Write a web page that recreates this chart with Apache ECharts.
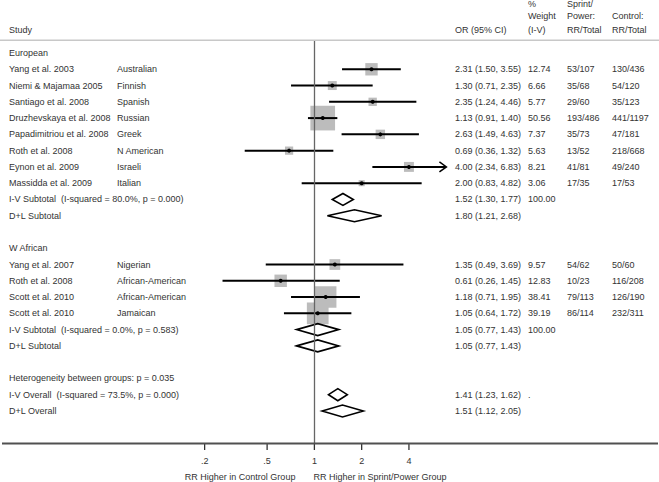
<!DOCTYPE html>
<html>
<head>
<meta charset="utf-8">
<script src="https://cdn.jsdelivr.net/npm/echarts@6/dist/echarts.min.js"></script>
<style>
html,body{margin:0;padding:0;background:#fff;}
#chart{width:659px;height:482px;}
</style>
</head>
<body>
<div id="chart"></div>
<script>
// ---------- DATA ----------
const groupLabels = ['European', 'W African', 'Heterogeneity between groups: p = 0.035'];
const groupRows = [0, 12, 20];

const studyNames = ['Yang et al. 2003', 'Niemi & Majamaa 2005', 'Santiago et al. 2008', 'Druzhevskaya et al. 2008',
  'Papadimitriou et al. 2008', 'Roth et al. 2008', 'Eynon et al. 2009', 'Massidda et al. 2009',
  'Yang et al. 2007', 'Roth et al. 2008', 'Scott et al. 2010', 'Scott et al. 2010'];
const studyPops = ['Australian', 'Finnish', 'Spanish', 'Russian', 'Greek', 'N American', 'Israeli', 'Italian',
  'Nigerian', 'African-American', 'African-American', 'Jamaican'];
const studyRows = [1, 2, 3, 4, 5, 6, 7, 8, 13, 14, 15, 16];
const studyOR = [2.31, 1.30, 2.35, 1.13, 2.63, 0.69, 4.00, 2.00, 1.35, 0.61, 1.18, 1.05];
const studyLo = [1.50, 0.71, 1.24, 0.91, 1.49, 0.36, 2.34, 0.83, 0.49, 0.26, 0.71, 0.64];
const studyHi = [3.55, 2.35, 4.46, 1.40, 4.63, 1.32, 6.83, 4.82, 3.69, 1.45, 1.95, 1.72];
const studyWeight = [12.74, 6.66, 5.77, 50.56, 7.37, 5.63, 8.21, 3.06, 9.57, 12.83, 38.41, 39.19];
const studyClipped = [0, 0, 0, 0, 0, 0, 1, 0, 0, 0, 0, 0];
const sprintRR = ['53/107', '35/68', '29/60', '193/486', '35/73', '13/52', '41/81', '17/35', '54/62', '10/23', '79/113', '86/114'];
const controlRR = ['130/436', '54/120', '35/123', '441/1197', '47/181', '218/668', '49/240', '17/53', '50/60', '116/208', '126/190', '232/311'];

const pooledLabels = ['I-V Subtotal  (I-squared = 80.0%, p = 0.000)', 'D+L Subtotal',
  'I-V Subtotal  (I-squared = 0.0%, p = 0.583)', 'D+L Subtotal',
  'I-V Overall  (I-squared = 73.5%, p = 0.000)', 'D+L Overall'];
const pooledRows = [9, 10, 17, 18, 21, 22];
const pooledOR = [1.52, 1.80, 1.05, 1.05, 1.41, 1.51];
const pooledLo = [1.30, 1.21, 0.77, 0.77, 1.23, 1.12];
const pooledHi = [1.77, 2.68, 1.43, 1.43, 1.62, 2.05];
const pooledWeightText = ['100.00', '', '100.00', '', '.', ''];

const tickValues = [0.2, 0.5, 1, 2, 4];
const tickLabels = ['.2', '.5', '1', '2', '4'];
const axisTitleLeft = 'RR Higher in Control Group';
const axisTitleRight = 'RR Higher in Sprint/Power Group';

// ---------- LAYOUT ----------
const FONT = '9px "Liberation Sans", Arial, sans-serif';
const TXT = '#333333';
const colX = [9, 117, 455, 528, 567, 612];
const X_MIN = 0.01025, X_MAX = 154.2;
const ROW_MIN = -0.8, ROW_MAX = 24;
const GRID_TOP = 40, GRID_BOTTOM = 38.5, CHART_H = 482;

function fmt(v) { return v.toFixed(2); }

const textRows = [];
groupRows.forEach((r, i) => textRows.push({ row: r, cells: [groupLabels[i]] }));
studyRows.forEach((r, i) => textRows.push({
  row: r,
  cells: [studyNames[i], studyPops[i], fmt(studyOR[i]) + ' (' + fmt(studyLo[i]) + ', ' + fmt(studyHi[i]) + ')',
    fmt(studyWeight[i]), sprintRR[i], controlRR[i]]
}));
pooledRows.forEach((r, i) => textRows.push({
  row: r,
  cells: [pooledLabels[i], '', fmt(pooledOR[i]) + ' (' + fmt(pooledLo[i]) + ', ' + fmt(pooledHi[i]) + ')',
    pooledWeightText[i], '', '']
}));

const chart = echarts.init(document.getElementById('chart'), null, { renderer: 'svg' });
const axisY = CHART_H - GRID_BOTTOM;

const option = {
  animation: false,
  backgroundColor: '#ffffff',
  grid: { left: 2, right: 1, top: GRID_TOP, bottom: GRID_BOTTOM, containLabel: false },
  xAxis: {
    type: 'log', min: X_MIN, max: X_MAX, position: 'bottom',
    axisLine: { show: false }, axisTick: { show: false }, axisLabel: { show: false }, splitLine: { show: false }
  },
  yAxis: {
    type: 'value', inverse: true, min: ROW_MIN, max: ROW_MAX, show: false, splitLine: { show: false }
  },
  graphic: [
    { type: 'rect', z: 100, shape: { x: 0, y: GRID_TOP - 0.5, width: 659, height: 1.5 }, style: { fill: '#c8c8c8' } },
    { type: 'rect', z: 100, shape: { x: 2, y: axisY - 1, width: 656, height: 2 }, style: { fill: '#505050' } },
    { type: 'text', x: colX[0], y: 30, style: { text: 'Study', font: FONT, fill: TXT, verticalAlign: 'middle' } },
    { type: 'text', x: colX[2], y: 30, style: { text: 'OR (95% CI)', font: FONT, fill: TXT, verticalAlign: 'middle' } },
    { type: 'text', x: colX[3], y: 4, style: { text: '%', font: FONT, fill: TXT, verticalAlign: 'middle' } },
    { type: 'text', x: colX[3], y: 16, style: { text: 'Weight', font: FONT, fill: TXT, verticalAlign: 'middle' } },
    { type: 'text', x: colX[3], y: 30, style: { text: '(I-V)', font: FONT, fill: TXT, verticalAlign: 'middle' } },
    { type: 'text', x: colX[4], y: 4, style: { text: 'Sprint/', font: FONT, fill: TXT, verticalAlign: 'middle' } },
    { type: 'text', x: colX[4], y: 16, style: { text: 'Power:', font: FONT, fill: TXT, verticalAlign: 'middle' } },
    { type: 'text', x: colX[4], y: 30, style: { text: 'RR/Total', font: FONT, fill: TXT, verticalAlign: 'middle' } },
    { type: 'text', x: colX[5], y: 16, style: { text: 'Control:', font: FONT, fill: TXT, verticalAlign: 'middle' } },
    { type: 'text', x: colX[5], y: 30, style: { text: 'RR/Total', font: FONT, fill: TXT, verticalAlign: 'middle' } }
  ],
  series: [
    {
      // reference line at OR = 1
      type: 'line', data: [], z: 1,
      markLine: {
        silent: true, symbol: 'none', label: { show: false },
        lineStyle: { color: '#666666', width: 1.3, type: 'solid' },
        data: [{ xAxis: 1 }]
      }
    },
    {
      name: 'studies', type: 'custom', z: 3,
      encode: { x: [0, 1, 2], y: 4 },
      data: studyOR.map((v, i) => [v, studyLo[i], studyHi[i], studyWeight[i], studyRows[i], studyClipped[i]]),
      renderItem: function (params, api) {
        const row = api.value(4);
        const c = api.coord([api.value(0), row]);
        const l = api.coord([api.value(1), row]);
        const h = api.coord([api.value(2), row]);
        const side = 3.47 * Math.sqrt(api.value(3));
        const ch = [
          { type: 'rect', shape: { x: c[0] - side / 2, y: c[1] - side / 2, width: side, height: side },
            style: { fill: '#bcbcbc' } },
          { type: 'line', shape: { x1: l[0], y1: l[1], x2: h[0], y2: h[1] },
            style: { stroke: '#000', lineWidth: 2 } },
          { type: 'circle', shape: { cx: c[0], cy: c[1], r: 2 }, style: { fill: '#000' } }
        ];
        if (api.value(5)) {
          ch.push({ type: 'polyline', shape: { points: [[h[0] - 6, h[1] - 5], [h[0] + 1, h[1]], [h[0] - 6, h[1] + 5]] },
            style: { stroke: '#000', lineWidth: 1.5, fill: null } });
        }
        return { type: 'group', children: ch };
      }
    },
    {
      name: 'pooled', type: 'custom', z: 3,
      encode: { x: [0, 1, 2], y: 3 },
      data: pooledOR.map((v, i) => [v, pooledLo[i], pooledHi[i], pooledRows[i]]),
      renderItem: function (params, api) {
        const row = api.value(3);
        const c = api.coord([api.value(0), row]);
        const l = api.coord([api.value(1), row]);
        const h = api.coord([api.value(2), row]);
        const hh = 6;
        return {
          type: 'polygon',
          shape: { points: [[l[0], c[1]], [c[0], c[1] - hh], [h[0], c[1]], [c[0], c[1] + hh]] },
          style: { fill: '#fff', stroke: '#000', lineWidth: 1.6 }
        };
      }
    },
    {
      name: 'ticks', type: 'custom', z: 3, clip: false,
      encode: { x: 0, y: 1 },
      data: tickValues.map((v) => [v, ROW_MAX]),
      renderItem: function (params, api) {
        const p = api.coord([api.value(0), api.value(1)]);
        return {
          type: 'group', children: [
            { type: 'rect', shape: { x: p[0] - 0.65, y: p[1], width: 1.3, height: 6.5 }, style: { fill: '#333' } },
            { type: 'text', x: p[0], y: p[1] + 17,
              style: { text: tickLabels[params.dataIndex], font: FONT, fill: TXT, align: 'center', verticalAlign: 'middle' } }
          ]
        };
      }
    },
    {
      name: 'axisTitles', type: 'custom', z: 5, clip: false,
      encode: { x: 0, y: 1 },
      data: [[1, ROW_MAX]],
      renderItem: function (params, api) {
        const p = api.coord([api.value(0), api.value(1)]);
        return {
          type: 'group', children: [
            { type: 'text', x: p[0] - 19, y: p[1] + 33,
              style: { text: axisTitleLeft, font: FONT, fill: TXT, align: 'right', verticalAlign: 'middle' } },
            { type: 'text', x: p[0] - 1, y: p[1] + 33,
              style: { text: axisTitleRight, font: FONT, fill: TXT, align: 'left', verticalAlign: 'middle' } }
          ]
        };
      }
    },
    {
      name: 'tableText', type: 'custom', z: 4,
      encode: { x: 0, y: 1 },
      data: textRows.map((t) => [1, t.row]),
      renderItem: function (params, api) {
        const y = api.coord([1, api.value(1)])[1];
        const cells = textRows[params.dataIndex].cells;
        const ch = [];
        cells.forEach((txt, k) => {
          if (!txt) return;
          ch.push({ type: 'text', x: colX[k], y: y,
            style: { text: txt, font: FONT, fill: TXT, align: 'left', verticalAlign: 'middle' } });
        });
        return { type: 'group', children: ch };
      }
    }
  ]
};
chart.setOption(option);
</script>
</body>
</html>
